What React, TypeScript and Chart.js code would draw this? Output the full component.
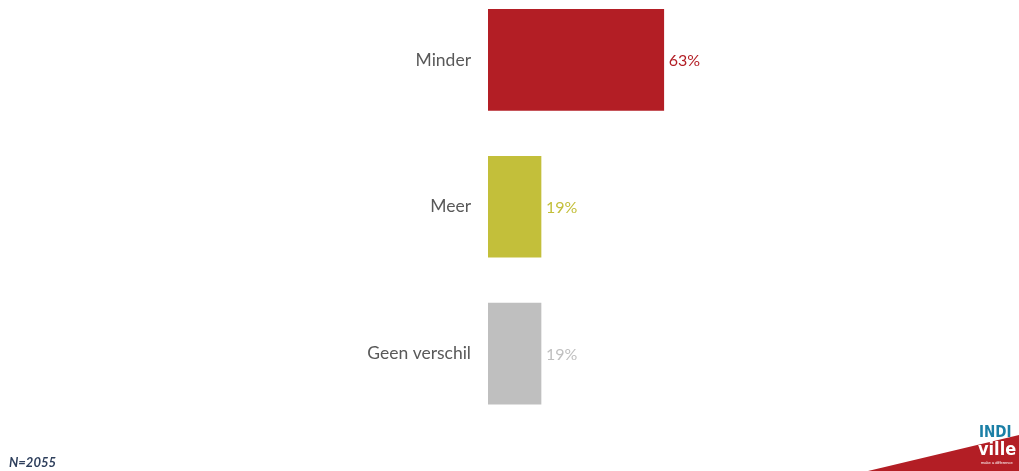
import React, { useEffect, useRef } from "react";
import { Chart, registerables } from "chart.js";

Chart.register(...registerables);

const categories = ["Minder", "Meer", "Geen verschil"];
const values = [63, 19, 19];
const valueLabels = ["63%", "19%", "19%"];
const barColors = ["#B31E25", "#C3BF3A", "#BFBFBF"];
const noteText = "N=2055";

const FONT = "Lato, 'Open Sans', sans-serif";

const valueLabelPlugin = {
  id: "valueLabels",
  afterDatasetsDraw(chart: any) {
    const ctx = chart.ctx;
    const meta = chart.getDatasetMeta(0);
    ctx.save();
    ctx.font = `16px ${FONT}`;
    ctx.textBaseline = "middle";
    ctx.textAlign = "left";
    meta.data.forEach((el: any, i: number) => {
      ctx.fillStyle = barColors[i];
      ctx.fillText(valueLabels[i], el.x + 5, el.y + 1);
    });
    ctx.restore();
  },
};

export default function App() {
  const ref = useRef<HTMLCanvasElement | null>(null);

  useEffect(() => {
    document.body.style.margin = "0";
    const chart = new Chart(ref.current as HTMLCanvasElement, {
      type: "bar",
      data: {
        labels: categories,
        datasets: [
          {
            data: values,
            backgroundColor: barColors,
            barThickness: 101,
            borderWidth: 0,
          },
        ],
      },
      options: {
        indexAxis: "y",
        animation: false,
        responsive: false,
        maintainAspectRatio: false,
        layout: { padding: { left: 0, right: 252, top: 0, bottom: 44 } },
        plugins: {
          legend: { display: false },
          tooltip: { enabled: false },
        },
        scales: {
          x: {
            display: false,
            min: 0,
            max: 100,
          },
          y: {
            grid: { display: false, drawTicks: false },
            border: { display: false },
            ticks: {
              color: "#595959",
              font: { family: FONT, size: 17.5 },
              padding: 17,
            },
            afterFit(scale: any) {
              scale.width = 488;
            },
          },
        },
      },
      plugins: [valueLabelPlugin],
    });
    return () => chart.destroy();
  }, []);

  return (
    <div style={{ position: "relative", width: 1019, height: 471, overflow: "hidden", background: "#fff" }}>
      <canvas
        ref={ref}
        width={1019}
        height={512}
        style={{ position: "absolute", left: 0, top: -41, width: 1019, height: 512 }}
      />
      <div
        style={{
          position: "absolute",
          left: 9,
          top: 455,
          fontFamily: FONT,
          fontSize: 13,
          fontWeight: "bold",
          fontStyle: "italic",
          color: "#2E3F5C",
          lineHeight: "14px",
        }}
      >
        {noteText}
      </div>
      <svg width={1019} height={471} style={{ position: "absolute", left: 0, top: 0 }}>
        <polygon points="868,471 1019,435 1019,471" fill="#B31E25" />
        <text x={979} y={437} fontFamily="'DejaVu Sans Condensed', 'Liberation Sans Narrow', sans-serif" fontWeight="bold" fontSize={15} fill="#1B7FA6">INDI</text>
        <text x={978} y={455} fontFamily="'DejaVu Sans Condensed', 'Liberation Sans Narrow', sans-serif" fontWeight="bold" fontSize={18} fill="#ffffff">ville</text>
        <text x={981} y={464} fontFamily="sans-serif" fontSize={4} fill="#ffffff">make a difference</text>
      </svg>
    </div>
  );
}
